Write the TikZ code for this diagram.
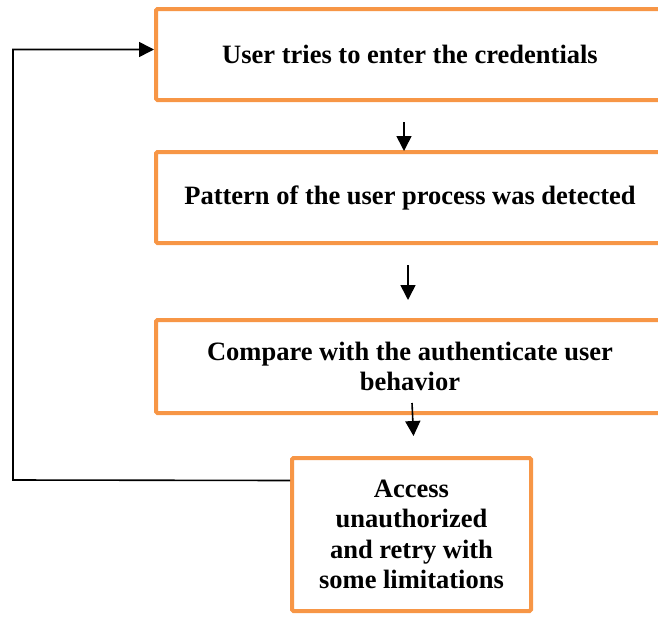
\documentclass[tikz,border=0pt]{standalone}
\usepackage{fontspec}
\setmainfont{Liberation Serif}
\usetikzlibrary{arrows.meta}
\definecolor{boxorange}{HTML}{F79646}
\begin{document}
\begin{tikzpicture}[x=1pt,y=-1pt,
  stepbox/.style={draw=boxorange, line width=4pt, rounded corners=1.5pt, fill=white,
    align=center, font=\fontsize{26.5}{30.5}\selectfont\bfseries, inner sep=0pt},
  arr/.style={line width=1.6pt, -{Triangle[width=15pt,length=15pt]}},
  looparr/.style={line width=1.6pt, line join=miter, -{Triangle[width=15pt,length=15pt]}}]
\useasboundingbox (0,0) rectangle (658,616);
\clip (0,0) rectangle (658,616);
\node[stepbox, minimum width=508pt, minimum height=91pt] (b1) at (410,54.5) {User tries to enter the credentials};
\node[stepbox, minimum width=508pt, minimum height=91pt] (b2) at (410,197.5) {Pattern of the user process was detected};
\node[stepbox, minimum width=508pt, minimum height=93pt] (b3) at (410,366.5) {Compare with the authenticate user\\behavior};
\node[stepbox, minimum width=239pt, minimum height=153pt] (b4) at (411.5,534.5) {Access\\unauthorized\\and retry with\\some limitations};
\draw[arr] ([xshift=-6pt,yshift=-20pt]b1.south) -- ([xshift=-6pt,yshift=-1pt]b2.north);
\draw[arr] ([xshift=-2pt,yshift=-20pt]b2.south) -- ([xshift=-2pt,yshift=18pt]b3.north);
\draw[arr] ([xshift=2pt,yshift=12pt]b3.south) -- ([xshift=2pt,yshift=20pt]b4.north);
\coordinate (lc) at (13,480);
\draw[looparr] ([yshift=54pt]b4.west) -- (lc) |- ([yshift=5pt]b1.west);
\end{tikzpicture}
\end{document}
